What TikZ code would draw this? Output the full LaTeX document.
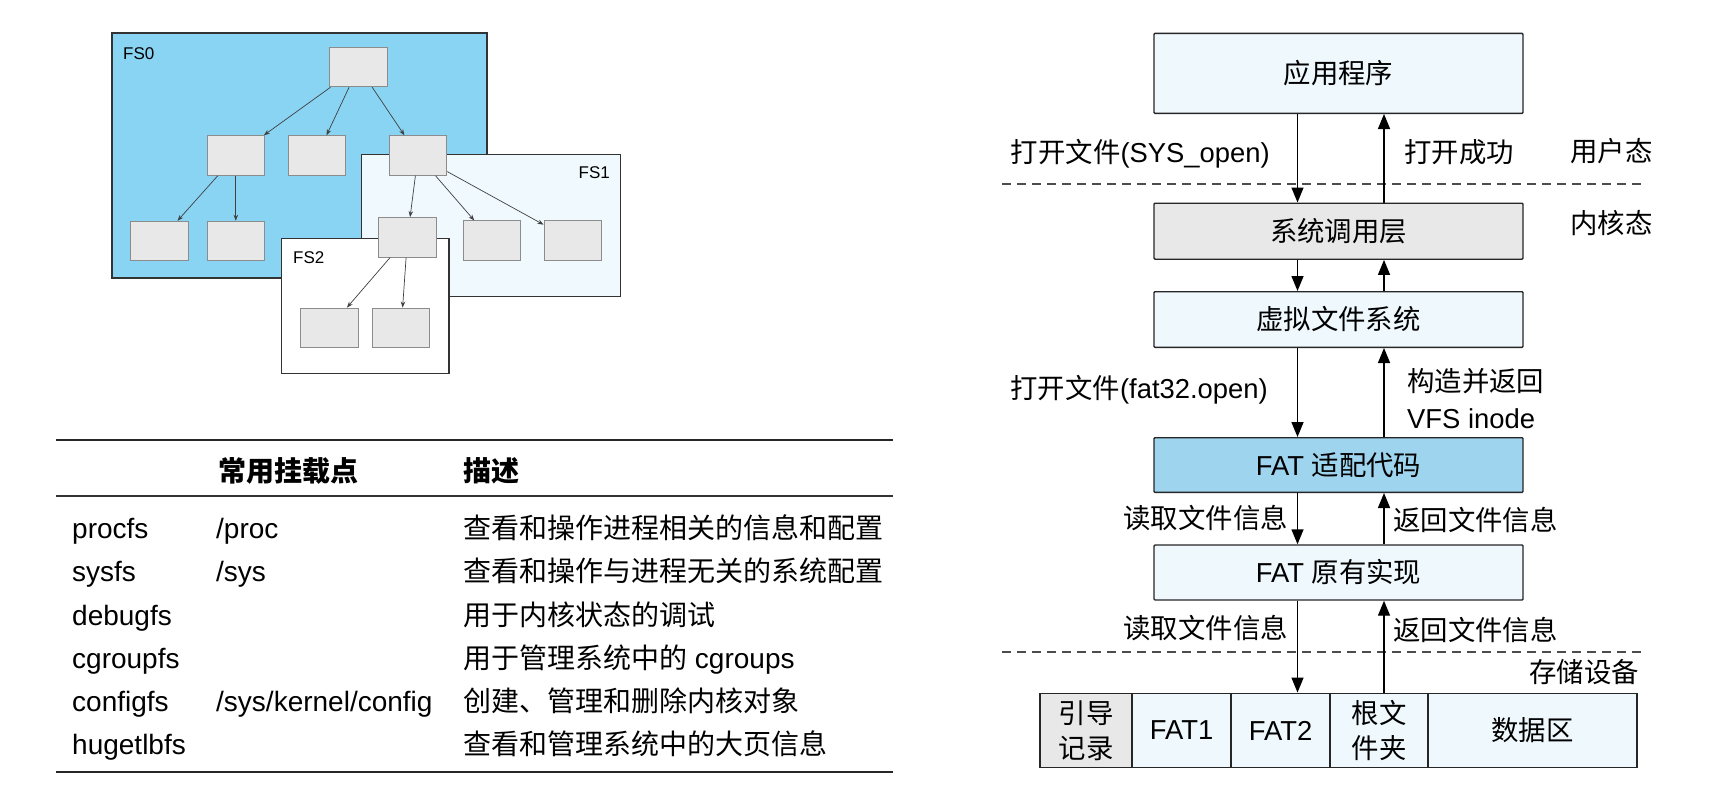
\documentclass[tikz,border=0pt]{standalone}
\usepackage{fontspec}
\setmainfont{Liberation Sans}
\newfontfamily\cjk{Noto Sans CJK SC}
\usetikzlibrary{arrows.meta}
\definecolor{fszero}{RGB}{137,212,243}
\definecolor{fsone}{RGB}{240,249,253}
\definecolor{leafgray}{RGB}{232,232,232}
\definecolor{leafedge}{RGB}{140,140,140}
\definecolor{lightblue}{RGB}{238,248,253}
\definecolor{midblue}{RGB}{158,212,238}
\begin{document}
\begin{tikzpicture}[x=1pt,y=-1pt,
  txt/.style={font=\fontsize{27.4}{33}\selectfont, inner sep=0pt, text height=21.9pt, text depth=1.4pt},
  tab/.style={font=\fontsize{28}{33}\selectfont, inner sep=0pt, text height=22.4pt, text depth=1.4pt},
  hdr/.style={font=\fontsize{28}{33}\selectfont\bfseries, inner sep=0pt, text height=22.4pt, text depth=1.4pt},
  ml/.style={font=\fontsize{27.4}{37}\selectfont, inner sep=0pt, align=left},
  frame/.style={draw=black!80, line width=1.1pt, inner sep=0pt},
  leaf/.style={draw=leafedge, fill=leafgray, line width=1pt, minimum width=57.5pt, minimum height=39.5pt, inner sep=0pt},
  tarr/.style={draw=black!75, line width=0.7pt, -{Stealth[length=6pt,width=4.5pt]}},
  layer/.style={draw=black!85, line width=1.4pt, rounded corners=1pt, minimum width=369pt, inner sep=0pt, font=\fontsize{27.4}{33}\selectfont, text height=21.9pt, text depth=1.4pt},
  cell/.style={draw=black!85, line width=1.4pt, fill=lightblue, minimum height=74.5pt, inner sep=0pt, align=center, font=\fontsize{27.4}{35}\selectfont},
  arr/.style={draw=black, line width=1.4pt, -{Triangle[length=15pt,width=12pt]}},
  sep/.style={draw=black!70, line width=1.3pt, dash pattern=on 9pt off 6pt},
  fslabel/.style={font=\fontsize{17}{20}\selectfont, inner sep=0pt, text height=12.2pt, text depth=0pt},
]
\useasboundingbox (0,0) rectangle (1712,793);
\fill[white] (0,0) rectangle (1712,793);

% ---------- file system tree ----------
\node[frame, fill=fszero, minimum width=375pt, minimum height=245pt] (fs0) at (299.5,155.5) {};
\node[frame, fill=fsone, minimum width=259pt, minimum height=142.4pt] (fs1) at (491.2,225.5) {};
\node[frame, fill=white, minimum width=167.3pt, minimum height=135pt] (fs2) at (365.35,305.8) {};
\node[fslabel, anchor=west] (l0) at (123,53) {FS0};
\node[fslabel, anchor=east] (l1) at (610,172) {FS1};
\node[fslabel, anchor=west] (l2) at (293,257) {FS2};

\node[leaf] (root) at (358.6,67) {};
\node[leaf] (A) at (235.8,155.5) {};
\node[leaf] (B) at (317,155.5) {};
\node[leaf] (C) at (418,155.5) {};
\node[leaf] (D) at (159.5,241) {};
\node[leaf] (E) at (235.8,241) {};
\node[leaf] (F) at (407.5,237.3) {};
\node[leaf] (G) at (491.8,240.7) {};
\node[leaf] (H) at (572.8,240.7) {};
\node[leaf] (I) at (329.5,327.8) {};
\node[leaf] (J) at (401.2,327.8) {};

\draw[tarr] (root) -- (A);
\draw[tarr] (root) -- (B);
\draw[tarr] (root) -- (C);
\draw[tarr] (A) -- (D);
\draw[tarr] (A) -- (E);
\draw[tarr] (C) -- (F);
\draw[tarr] (C) -- (G);
\draw[tarr] (C) -- (H);
\draw[tarr] (F) -- (I);
\draw[tarr] (F) -- (J);

% ---------- table ----------
\draw[line width=1.7pt, black!85] (56,440) -- (893,440);
\draw[line width=1.1pt, black!80] (56,496) -- (893,496);
\draw[line width=1.7pt, black!85] (56,772) -- (893,772);
\node[hdr, anchor=west] (h2) at (218,471) {\cjk\bfseries 常用挂载点};
\node[hdr, anchor=west] (h3) at (463,471) {\cjk\bfseries 描述};

\node[tab, anchor=west] (r1a) at (72,528) {procfs};
\node[tab, anchor=west] (r1b) at (216,528) {/proc};
\node[tab, anchor=west] (r1c) at (463,528) {\cjk 查看和操作进程相关的信息和配置};
\node[tab, anchor=west] (r2a) at (72,571) {sysfs};
\node[tab, anchor=west] (r2b) at (216,571) {/sys};
\node[tab, anchor=west] (r2c) at (463,571) {\cjk 查看和操作与进程无关的系统配置};
\node[tab, anchor=west] (r3a) at (72,614.5) {debugfs};
\node[tab, anchor=west] (r3c) at (463,614.5) {\cjk 用于内核状态的调试};
\node[tab, anchor=west] (r4a) at (72,658) {cgroupfs};
\node[tab, anchor=west] (r4c) at (463,658) {{\cjk 用于管理系统中的} cgroups};
\node[tab, anchor=west] (r5a) at (72,701) {configfs};
\node[tab, anchor=west] (r5b) at (216,701) {/sys/kernel/config};
\node[tab, anchor=west] (r5c) at (463,701) {\cjk 创建、管理和删除内核对象};
\node[tab, anchor=west] (r6a) at (72,744) {hugetlbfs};
\node[tab, anchor=west] (r6c) at (463,744) {\cjk 查看和管理系统中的大页信息};

% ---------- layered stack ----------
\node[layer, fill=lightblue, minimum height=80pt] (app) at (1338.5,73.3) {\cjk 应用程序};
\node[layer, fill=leafgray, minimum height=56pt] (sys) at (1338.5,231.2) {\cjk 系统调用层};
\node[layer, fill=lightblue, minimum height=55.6pt] (vfs) at (1338.5,319.5) {\cjk 虚拟文件系统};
\node[layer, fill=midblue, minimum height=54.6pt] (adp) at (1338.5,465) {FAT {\cjk 适配代码}};
\node[layer, fill=lightblue, minimum height=55pt] (orig) at (1338.5,572.5) {FAT {\cjk 原有实现}};

\node[cell, fill=leafgray, minimum width=92pt] (c1) at (1086,730.5) {\cjk 引导\\\cjk 记录};
\node[cell, minimum width=99pt] (c2) at (1181.5,730.5) {FAT1};
\node[cell, minimum width=99pt] (c3) at (1280.5,730.5) {FAT2};
\node[cell, minimum width=98pt] (c4) at (1379,730.5) {\cjk 根文\\\cjk 件夹};
\node[cell, minimum width=209pt] (c5) at (1532.5,730.5) {\cjk 数据区};

\draw[sep] (1002,184) -- (1643,184);
\draw[sep] (1002,652) -- (1643,652);

\coordinate (L) at (1297.5,0);
\coordinate (R) at (1384,0);
\draw[arr] (app.south -| L) -- (sys.north -| L);
\draw[arr] (sys.north -| R) -- (app.south -| R);
\draw[arr] (sys.south -| L) -- (vfs.north -| L);
\draw[arr] (vfs.north -| R) -- (sys.south -| R);
\draw[arr] (vfs.south -| L) -- (adp.north -| L);
\draw[arr] (adp.north -| R) -- (vfs.south -| R);
\draw[arr] (adp.south -| L) -- (orig.north -| L);
\draw[arr] (orig.north -| R) -- (adp.south -| R);
\draw[arr] (orig.south -| L) -- (c3.north -| L);
\draw[arr] (c4.north -| R) -- (orig.south -| R);

\node[txt, anchor=east] (t1) at (1270,152) {{\cjk 打开文件}(SYS\_open)};
\node[txt, anchor=west] (t2) at (1404,152) {\cjk 打开成功};
\node[txt, anchor=west] (t3) at (1570,151) {\cjk 用户态};
\node[txt, anchor=west] (t4) at (1570,223) {\cjk 内核态};
\node[txt, anchor=east] (t5) at (1268,388) {{\cjk 打开文件}(fat32.open)};
\node[ml, anchor=west] (t6) at (1407,398.5) {\cjk 构造并返回\\VFS inode};
\node[txt, anchor=east] (t7) at (1288,518) {\cjk 读取文件信息};
\node[txt, anchor=west] (t8) at (1393,520) {\cjk 返回文件信息};
\node[txt, anchor=east] (t9) at (1288,628) {\cjk 读取文件信息};
\node[txt, anchor=west] (t10) at (1393,630) {\cjk 返回文件信息};
\node[txt, anchor=east] (t11) at (1639,672) {\cjk 存储设备};
\end{tikzpicture}
\end{document}
